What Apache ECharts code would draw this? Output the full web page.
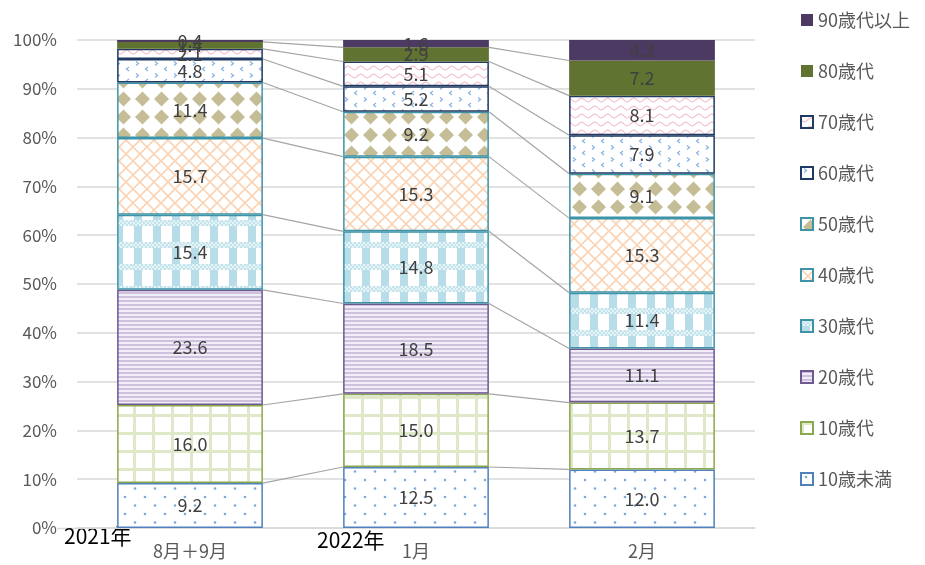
<!DOCTYPE html>
<html>
<head>
<meta charset="utf-8">
<script src="https://cdn.jsdelivr.net/npm/echarts@6/dist/echarts.min.js"></script>
<style>
  html, body { margin: 0; padding: 0; background: #ffffff; }
  #chart { width: 925px; height: 565px; }
</style>
</head>
<body>
<div id="chart"></div>
<script>
// Periods on the category axis
const categories = ['8月＋9月', '1月', '2月'];
const yearLabels = ['2021年', '2022年'];

// Share of cases by age group (%), bottom of the stack first
const seriesNames = ['10歳未満', '10歳代', '20歳代', '30歳代', '40歳代',
                     '50歳代', '60歳代', '70歳代', '80歳代', '90歳代以上'];
const under10 = [9.2, 12.5, 12.0];
const age10s  = [16.0, 15.0, 13.7];
const age20s  = [23.6, 18.5, 11.1];
const age30s  = [15.4, 14.8, 11.4];
const age40s  = [15.7, 15.3, 15.3];
const age50s  = [11.4, 9.2, 9.1];
const age60s  = [4.8, 5.2, 7.9];
const age70s  = [2.1, 5.1, 8.1];
const age80s  = [1.4, 2.9, 7.2];
const age90up = [0.4, 1.6, 4.3];

const yTicks = [0, 10, 20, 30, 40, 50, 60, 70, 80, 90, 100];

const stacks = [under10, age10s, age20s, age30s, age40s, age50s, age60s, age70s, age80s, age90up];
const BAR_RATIO = 0.645;
const FONT = '"Noto Sans CJK JP", "Noto Sans", sans-serif';

// ---- fill patterns -------------------------------------------------------
function makeCanvas(w, h, draw) {
  const c = document.createElement('canvas');
  c.width = w; c.height = h;
  const ctx = c.getContext('2d');
  ctx.fillStyle = '#ffffff';
  ctx.fillRect(0, 0, w, h);
  draw(ctx, w, h);
  return c;
}
function pattern(canvas) { return { image: canvas, repeat: 'repeat' }; }

const dotFill = makeCanvas(20, 17, (ctx) => {
  ctx.fillStyle = '#7fa7dd';
  [[5, 4], [15, 12.5]].forEach(([x, y]) => { ctx.beginPath(); ctx.arc(x, y, 1.3, 0, Math.PI * 2); ctx.fill(); });
});
const gridFill = makeCanvas(19, 18, (ctx, w, h) => {
  ctx.fillStyle = '#dfe9c9';
  ctx.fillRect(0, 0, 3, h);
  ctx.fillRect(0, 0, w, 3);
});
const stripeFill = makeCanvas(4, 4, (ctx) => {
  ctx.fillStyle = '#f2eef7';
  ctx.fillRect(0, 0, 4, 4);
  ctx.fillStyle = '#cdc1de';
  ctx.fillRect(0, 0, 4, 2);
});
const plaidFill = makeCanvas(19, 22, (ctx, w, h) => {
  ctx.fillStyle = '#b7dde8';
  ctx.fillRect(1, 6, 8, h - 6);
  for (let x = 0; x < w; x += 2) {
    for (let y = 0; y < 6; y += 2) {
      ctx.fillStyle = ((x + y) / 2) % 2 === 0 ? '#c3e3ec' : '#e6f3f7';
      ctx.fillRect(x, y, 2, 2);
    }
  }
});
const latticeFill = makeCanvas(14, 14, (ctx) => {
  ctx.strokeStyle = '#fbd3b5';
  ctx.lineWidth = 1.6;
  ctx.beginPath();
  ctx.moveTo(-1, -1); ctx.lineTo(15, 15);
  ctx.moveTo(15, -1); ctx.lineTo(-1, 15);
  ctx.stroke();
});
const diamondFill = makeCanvas(19, 18, (ctx) => {
  ctx.fillStyle = '#c4bd96';
  ctx.beginPath();
  ctx.moveTo(9.5, 1.5); ctx.lineTo(17, 9); ctx.lineTo(9.5, 16.5); ctx.lineTo(2, 9);
  ctx.closePath();
  ctx.fill();
});
const chevronFill = makeCanvas(19, 12, (ctx) => {
  ctx.strokeStyle = '#86b0e3';
  ctx.lineWidth = 1.2;
  ctx.beginPath();
  ctx.moveTo(3, 1.5); ctx.lineTo(5.5, 3.5); ctx.lineTo(3, 5.5);
  ctx.moveTo(15, 7); ctx.lineTo(12.5, 9); ctx.lineTo(15, 11);
  ctx.stroke();
});
const waveFill = makeCanvas(13, 8, (ctx) => {
  ctx.strokeStyle = '#f5c3d0';
  ctx.lineWidth = 1.3;
  ctx.beginPath();
  for (let x = 0; x <= 13; x += 0.5) {
    const y = 4 + 1.8 * Math.sin((x / 13) * Math.PI * 2);
    if (x === 0) ctx.moveTo(x, y); else ctx.lineTo(x, y);
  }
  ctx.stroke();
});

const styles = [
  { color: pattern(dotFill),     borderColor: '#4f81bd', borderWidth: 1.5 },
  { color: pattern(gridFill),    borderColor: '#8aa84c', borderWidth: 1.5 },
  { color: pattern(stripeFill),  borderColor: '#6f5790', borderWidth: 1.5 },
  { color: pattern(plaidFill),   borderColor: '#3d93a8', borderWidth: 1.5 },
  { color: pattern(latticeFill), borderColor: '#3d93a8', borderWidth: 1.5 },
  { color: pattern(diamondFill), borderColor: '#3d93a8', borderWidth: 1.5 },
  { color: pattern(chevronFill), borderColor: '#1f3a63', borderWidth: 1.5 },
  { color: pattern(waveFill),    borderColor: '#1f3a63', borderWidth: 1.5 },
  { color: '#607331', borderWidth: 0 },
  { color: '#4c3a62', borderWidth: 0 }
];

// ---- cumulative tops for the series lines between bars -----------------
function cumulative(ci) {
  let s = 0;
  return stacks.map(arr => (s += arr[ci]));
}
const linkData = [];
for (let i = 0; i < categories.length - 1; i++) {
  for (let k = 0; k < stacks.length - 1; k++) linkData.push([i, k]);
}

const barSeries = seriesNames.map((name, idx) => ({
  name: name,
  type: 'bar',
  stack: 'total',
  barWidth: (BAR_RATIO * 100) + '%',
  data: stacks[idx],
  itemStyle: styles[idx],
  label: {
    show: true,
    position: 'inside',
    formatter: p => Number(p.value).toFixed(1),
    color: '#404040',
    fontSize: 18,
    fontFamily: FONT
  },
  emphasis: { disabled: true },
  z: 3
}));

const linkSeries = {
  type: 'custom',
  silent: true,
  z: 1,
  data: linkData,
  renderItem: function (params, api) {
    const i = api.value(0), k = api.value(1);
    const a = cumulative(i)[k], b = cumulative(i + 1)[k];
    const p1 = api.coord([i, a]);
    const p2 = api.coord([i + 1, b]);
    const hw = api.size([1, 0])[0] * BAR_RATIO / 2;
    return {
      type: 'line',
      shape: { x1: p1[0] + hw, y1: p1[1], x2: p2[0] - hw, y2: p2[1] },
      style: { stroke: '#a5a5a5', lineWidth: 1.2 }
    };
  }
};

const chart = echarts.init(document.getElementById('chart'), null, { renderer: 'canvas' });
chart.setOption({
  animation: false,
  backgroundColor: '#ffffff',
  grid: { left: 77, right: 170, top: 40, bottom: 37 },
  legend: {
    orient: 'vertical',
    left: 795,
    top: 5,
    itemWidth: 12,
    itemHeight: 12,
    itemGap: 31,
    icon: 'rect',
    selectedMode: false,
    data: seriesNames.slice().reverse(),
    textStyle: { color: '#595959', fontSize: 18, fontFamily: FONT, lineHeight: 20 }
  },
  xAxis: {
    type: 'category',
    data: categories,
    axisLine: { lineStyle: { color: '#d9d9d9', width: 1.5 } },
    axisTick: { show: false },
    axisLabel: { color: '#595959', fontSize: 18, fontFamily: FONT, margin: 14 }
  },
  yAxis: {
    type: 'value',
    min: yTicks[0],
    max: yTicks[yTicks.length - 1],
    interval: yTicks[1] - yTicks[0],
    axisLine: { show: false },
    axisTick: { show: false },
    splitLine: { lineStyle: { color: '#d9d9d9', width: 1.5 } },
    axisLabel: { formatter: '{value}%', color: '#595959', fontSize: 17, fontFamily: FONT, margin: 20 }
  },
  graphic: [
    { type: 'line', shape: { x1: 57, y1: 528.5, x2: 77, y2: 528.5 }, style: { stroke: '#d9d9d9', lineWidth: 1.5 } },
    { type: 'text', left: 64, top: 526, style: { text: yearLabels[0], fill: '#000000', fontSize: 21, fontFamily: FONT } },
    { type: 'text', left: 317, top: 530, style: { text: yearLabels[1], fill: '#000000', fontSize: 21, fontFamily: FONT } }
  ],
  series: barSeries.concat([linkSeries])
});
</script>
</body>
</html>
